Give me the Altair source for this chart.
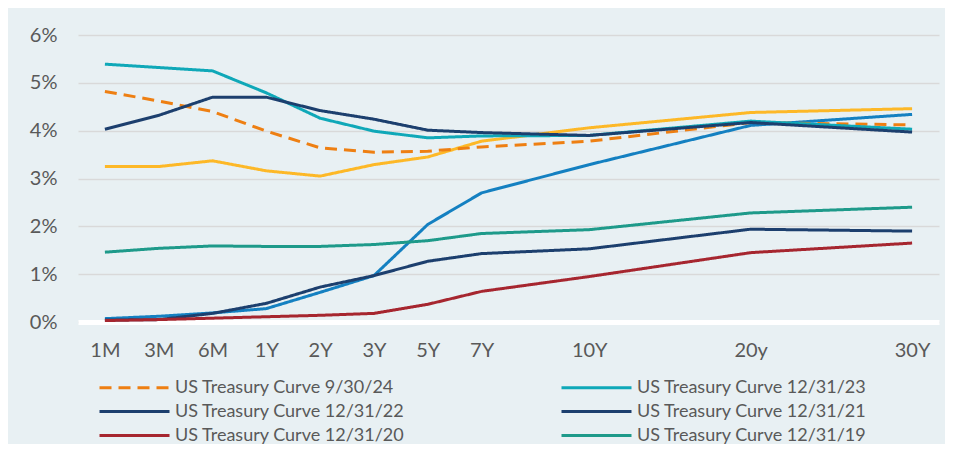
import altair as alt
import pandas as pd

tenors = ["1M", "3M", "6M", "1Y", "2Y", "3Y", "5Y", "7Y", "10Y", "20y", "30Y"]
tenor_pos = [0, 1, 2, 3, 4, 5, 6, 7, 9, 12, 15]

legend_names = [
    "US Treasury Curve 9/30/24",
    "US Treasury Curve 12/31/23",
    "US Treasury Curve 12/31/22",
    "US Treasury Curve 12/31/21",
    "US Treasury Curve 12/31/20",
    "US Treasury Curve 12/31/19",
]
extra_names = ["Curve A", "Curve B"]

y_0924 = [4.82, 4.62, 4.40, 3.99, 3.64, 3.55, 3.57, 3.66, 3.78, 4.17, 4.12]
y_1223 = [5.39, 5.32, 5.25, 4.79, 4.26, 3.99, 3.85, 3.89, 3.90, 4.20, 4.03]
y_1222 = [4.03, 4.32, 4.70, 4.70, 4.42, 4.24, 4.01, 3.96, 3.90, 4.17, 3.97]
y_1221 = [0.04, 0.05, 0.18, 0.39, 0.73, 0.97, 1.27, 1.43, 1.53, 1.94, 1.90]
y_1220 = [0.03, 0.05, 0.08, 0.11, 0.14, 0.18, 0.37, 0.64, 0.95, 1.45, 1.65]
y_1219 = [1.46, 1.54, 1.59, 1.58, 1.58, 1.62, 1.70, 1.85, 1.93, 2.28, 2.40]
y_extra_yellow = [3.25, 3.25, 3.37, 3.16, 3.05, 3.29, 3.45, 3.78, 4.06, 4.38, 4.46]
y_extra_blue = [0.07, 0.12, 0.19, 0.28, 0.62, 0.97, 2.04, 2.70, 3.29, 4.11, 4.34]

all_names = extra_names + legend_names
all_values = [y_extra_yellow, y_extra_blue, y_0924, y_1223, y_1222, y_1221, y_1220, y_1219]
colors = ["#FDB827", "#1480C1", "#EE7F12", "#0FA8B8", "#1C3F6E", "#1C3F6E", "#A6262F", "#1E9A8A"]
dashes = [[1, 0], [1, 0], [12, 7], [1, 0], [1, 0], [1, 0], [1, 0], [1, 0]]

rows = []
for order, (name, vals) in enumerate(zip(all_names, all_values)):
    for t, p, v in zip(tenors, tenor_pos, vals):
        rows.append({"series": name, "tenor": t, "pos": p, "rate": v, "order": order})
df = pd.DataFrame(rows)

label_arr = [""] * (max(tenor_pos) + 1)
for t, p in zip(tenors, tenor_pos):
    label_arr[p] = t
label_expr = "[" + ",".join("'" + s + "'" for s in label_arr) + "][datum.value]"

FONT = "Lato"
TXT = "#595959"

legend = alt.Legend(
    orient="none", legendX=45, legendY=341, columns=2, direction="horizontal", title=None,
    symbolType="M-3.5,0H3.5", symbolSize=400, symbolStrokeWidth=3,
    labelFontSize=18, labelColor=TXT, labelFont=FONT, labelOffset=29,
    columnPadding=150, rowPadding=3, values=legend_names, padding=0, labelLimit=400,
)

chart = alt.Chart(df).mark_line(strokeWidth=3).encode(
    x=alt.X("pos:Q", scale=alt.Scale(domain=[-0.5, 15.5], nice=False, zero=False),
            axis=alt.Axis(values=tenor_pos, labelExpr=label_expr, grid=False, ticks=False,
                          domainColor="white", domainWidth=5, labelFontSize=20,
                          labelColor=TXT, labelFont=FONT, labelPadding=18, title=None)),
    y=alt.Y("rate:Q", scale=alt.Scale(domain=[0, 6], nice=False),
            axis=alt.Axis(values=[0, 1, 2, 3, 4, 5, 6], labelExpr="datum.value + '%'",
                          grid=True, gridColor="#D9D9D9", gridWidth=1.5, domain=False,
                          ticks=False, labelPadding=21, labelFontSize=20, labelColor=TXT,
                          labelFont=FONT, title=None)),
    color=alt.Color("series:N", scale=alt.Scale(domain=all_names, range=colors), legend=legend),
    strokeDash=alt.StrokeDash("series:N", scale=alt.Scale(domain=all_names, range=dashes), legend=legend),
    order=alt.Order("order:Q"),
).properties(
    width=861, height=287,
    padding={"left": 70, "top": 27, "right": 6, "bottom": 122},
    autosize=alt.AutoSizeParams(type="none"),
    background="#E8F0F3",
).configure_view(stroke=None)

chart.save("out.html", embed_options={"renderer": "svg", "actions": False})
